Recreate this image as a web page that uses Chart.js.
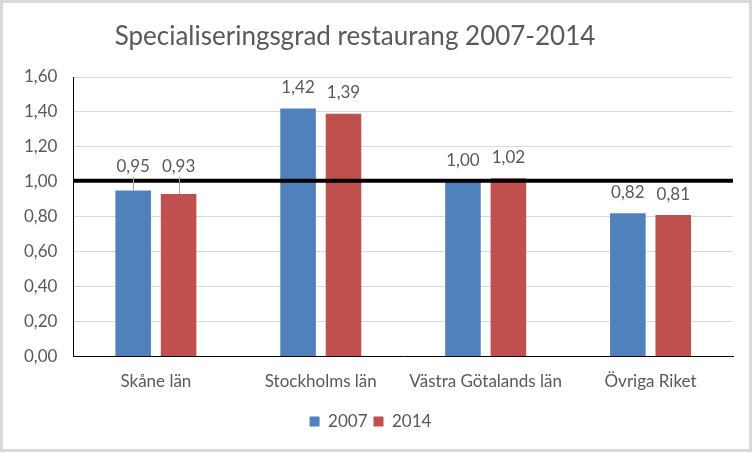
<!DOCTYPE html>
<html>
<head>
<meta charset="utf-8">
<script src="https://cdn.jsdelivr.net/npm/chart.js@4.4.1/dist/chart.umd.min.js"></script>
<style>
  html, body { margin: 0; padding: 0; background: #fff; }
  #wrap { width: 752px; height: 452px; }
</style>
</head>
<body>
<div id="wrap"><canvas id="chart" width="752" height="452"></canvas></div>
<script>
// data
var categories = ["Skåne län", "Stockholms län", "Västra Götalands län", "Övriga Riket"];
var values2007 = [0.95, 1.42, 1.00, 0.82];
var values2014 = [0.93, 1.39, 1.02, 0.81];
var seriesNames = ["2007", "2014"];
var referenceLevel = 1.0;
var chartTitle = "Specialiseringsgrad restaurang 2007-2014";

var textColor = "#595959";
var fontFamily = "Lato, 'Open Sans', sans-serif";

function fmt(v) {
    return v.toFixed(2).replace(".", ",");
}

// title, frame, reference line and value labels
var decorations = {
    id: 'decorations',
    afterDatasetsDraw: function(chart) {
        var ctx = chart.ctx;
        var area = chart.chartArea;
        var yScale = chart.scales.y;
        var lineY = yScale.getPixelForValue(referenceLevel) - 1;

        ctx.save();
        // black reference line at 1,00
        ctx.strokeStyle = "#000";
        ctx.lineWidth = 4;
        ctx.beginPath();
        ctx.moveTo(area.left, lineY);
        ctx.lineTo(area.right, lineY);
        ctx.stroke();

        // value labels
        ctx.font = "17px " + fontFamily;
        ctx.fillStyle = textColor;
        ctx.textAlign = "center";
        ctx.textBaseline = "middle";
        chart.data.datasets.forEach(function(ds, di) {
            var meta = chart.getDatasetMeta(di);
            meta.data.forEach(function(bar, i) {
                var y = bar.y - 21;
                if (i === 0) {
                    // label lifted above the reference line, with a leader line
                    y = lineY - 14;
                    ctx.strokeStyle = "#a6a6a6";
                    ctx.lineWidth = 1;
                    ctx.beginPath();
                    ctx.moveTo(Math.round(bar.x) + 0.5, y + 10);
                    ctx.lineTo(Math.round(bar.x) + 0.5, bar.y);
                    ctx.stroke();
                }
                ctx.fillText(fmt(ds.data[i]), bar.x, y);
            });
        });

        // title
        ctx.font = "26px " + fontFamily;
        ctx.textAlign = "center";
        ctx.textBaseline = "alphabetic";
        ctx.fillText(chartTitle, 355, 45);

        // outer frame
        ctx.strokeStyle = "#d9d9d9";
        ctx.lineWidth = 3;
        ctx.strokeRect(1.5, 1.5, chart.width - 3, chart.height - 3);
        ctx.restore();
    }
};

var ctx = document.getElementById("chart").getContext('2d');
var myChart = new Chart(ctx, {
    type: 'bar',
    data: {
        labels: categories,
        datasets: [{
            label: seriesNames[0],
            data: values2007,
            backgroundColor: "#4f81bd",
            categoryPercentage: 0.551,
            barPercentage: 0.783
        }, {
            label: seriesNames[1],
            data: values2014,
            backgroundColor: "#c0504d",
            categoryPercentage: 0.551,
            barPercentage: 0.783
        }]
    },
    options: {
        responsive: false,
        animation: false,
        layout: {
            padding: { top: 77, right: 19, left: 8, bottom: 12 }
        },
        plugins: {
            title: { display: false },
            tooltip: { enabled: false },
            legend: {
                position: 'bottom',
                labels: {
                    color: textColor,
                    font: { family: fontFamily, size: 17 },
                    boxWidth: 10,
                    boxHeight: 10,
                    padding: 6
                }
            }
        },
        scales: {
            x: {
                grid: { display: false, drawTicks: false },
                border: { color: "#000", width: 1 },
                ticks: {
                    color: textColor,
                    font: { family: fontFamily, size: 17 },
                    padding: 15
                }
            },
            y: {
                min: 0,
                max: 1.6,
                grid: { color: "#d9d9d9", drawTicks: false },
                border: { color: "#000", width: 1 },
                ticks: {
                    stepSize: 0.2,
                    color: textColor,
                    font: { family: fontFamily, size: 17 },
                    padding: 16,
                    callback: function(v) { return fmt(v); }
                }
            }
        }
    },
    plugins: [decorations]
});
</script>
</body>
</html>
